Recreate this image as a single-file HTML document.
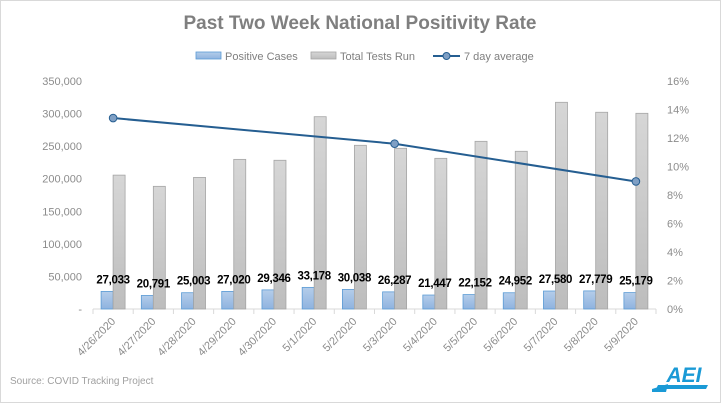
<!DOCTYPE html>
<html><head><meta charset="utf-8"><style>
body{margin:0;background:#fff;}
svg{display:block;font-family:"Liberation Sans",sans-serif;}
</style></head><body>
<svg id="chart" width="721" height="403" viewBox="0 0 721 403">
<defs>
<linearGradient id="gBlue" x1="0" y1="0" x2="0" y2="1"><stop offset="0" stop-color="#b4cdea"/><stop offset="1" stop-color="#8fb3df"/></linearGradient>
<linearGradient id="gGray" x1="0" y1="0" x2="0" y2="1"><stop offset="0" stop-color="#d6d6d6"/><stop offset="1" stop-color="#bdbdbd"/></linearGradient>
</defs>
<rect x="0.5" y="0.5" width="720" height="402" fill="#fff" stroke="#d9d9d9"/>
<text x="360" y="29" text-anchor="middle" font-size="19" font-weight="bold" fill="#7f7f7f">Past Two Week National  Positivity  Rate</text>
<g>
<g><rect x="196" y="52" width="25" height="7" fill="url(#gBlue)" stroke="#5b9bd5" stroke-width="0.8"/><text x="225" y="60" font-size="11" fill="#7f7f7f">Positive Cases</text></g>
<g><rect x="311" y="52" width="25" height="7" fill="url(#gGray)" stroke="#a5a5a5" stroke-width="0.8"/><text x="340" y="60" font-size="11" fill="#7f7f7f">Total Tests Run</text></g>
<g><line x1="433" y1="56" x2="460" y2="56" stroke="#255e91" stroke-width="2"/><circle cx="446.5" cy="56" r="3.5" fill="#7f9fc4" stroke="#255e91"/><text x="464" y="60" font-size="11" fill="#7f7f7f">7 day average</text></g>
</g>
<g id="plot"></g>
<text x="10" y="384" font-size="10" fill="#a0a0a0">Source: COVID Tracking Project</text>
<g fill="#1a9ad6">
<text x="684" y="382" text-anchor="middle" font-size="21" font-weight="bold" font-style="italic" fill="#1a9ad6">AEI</text>
<polygon points="658,385 708,385 706,389 656,389"/>
<polygon points="652,389 668,384 666,392 652,392"/>
</g>
</svg>
<script>
const categories=["4/26/2020","4/27/2020","4/28/2020","4/29/2020","4/30/2020","5/1/2020","5/2/2020","5/3/2020","5/4/2020","5/5/2020","5/6/2020","5/7/2020","5/8/2020","5/9/2020"];
const positiveCases=[27033,20791,25003,27020,29346,33178,30038,26287,21447,22152,24952,27580,27779,25179];
const totalTests=[205500,188300,202000,229700,228300,295200,251300,246700,231300,257400,242100,317300,302000,300400];
const avgValues=[13.4,null,null,null,null,null,null,11.6,null,null,null,null,null,8.95];
const leftTicks=[0,50000,100000,150000,200000,250000,300000,350000];
const leftTickLabels=["-","50,000","100,000","150,000","200,000","250,000","300,000","350,000"];
const rightTicks=[0,2,4,6,8,10,12,14,16];
const rightTickLabels=["0%","2%","4%","6%","8%","10%","12%","14%","16%"];

const NS="http://www.w3.org/2000/svg";
const plot=document.getElementById('plot');
const X0=93,X1=656,Y0=309,Y1=81;
const band=(X1-X0)/categories.length;
const xc=i=>X0+band*(i+0.5);
const yL=v=>Y0-(v/350000)*(Y0-Y1);
const yR=v=>Y0-(v/16)*(Y0-Y1);
function mk(tag,attrs,parent){const e=document.createElementNS(NS,tag);for(const k in attrs)e.setAttribute(k,attrs[k]);(parent||plot).appendChild(e);return e;}

leftTicks.forEach((t,i)=>{
 const e=mk('text',{x:82,y:yL(t)+4,'text-anchor':'end','font-size':11,fill:'#8c8c8c'});
 e.textContent=leftTickLabels[i];
 
 
});
rightTicks.forEach((t,i)=>{
 const e=mk('text',{x:667,y:yR(t)+4,'font-size':11,fill:'#8c8c8c'});
 e.textContent=rightTickLabels[i];
 
 
});
const ax=mk('line',{x1:X0,y1:Y0,x2:X1,y2:Y0,stroke:'#d9d9d9','stroke-width':1});


for(let i=0;i<=categories.length;i++){
 const tk=mk('line',{x1:X0+band*i,y1:Y0,x2:X0+band*i,y2:Y0+5,stroke:'#d9d9d9'});
 
 
}
const bw=12;
categories.forEach((c,i)=>{
 const cx=xc(i);
 const b=mk('rect',{x:cx-bw,y:yL(positiveCases[i]),width:bw,height:Y0-yL(positiveCases[i]),fill:'url(#gBlue)',stroke:'#5b9bd5','stroke-width':0.8});
 
 
 const g=mk('rect',{x:cx,y:yL(totalTests[i]),width:bw,height:Y0-yL(totalTests[i]),fill:'url(#gGray)',stroke:'#a5a5a5','stroke-width':0.8});
 
 
 const lb=mk('text',{x:cx,y:yL(positiveCases[i])-8,'text-anchor':'middle','font-size':11.5,'font-weight':'bold','letter-spacing':'-0.3',fill:'#000'});
 lb.textContent=positiveCases[i].toLocaleString('en-US');
 
 
 const tl=mk('text',{x:0,y:0,'text-anchor':'end','font-size':11,fill:'#8c8c8c',transform:`translate(${cx+3},${Y0+13}) rotate(-45)`});
 tl.textContent=c;
 
 
});
const pts=[];avgValues.forEach((v,i)=>{if(v!==null)pts.push([xc(i),yR(v)]);});
const ln=mk('polyline',{points:pts.map(p=>p.join(',')).join(' '),fill:'none',stroke:'#255e91','stroke-width':2});


pts.forEach(p=>{
 const m=mk('circle',{cx:p[0],cy:p[1],r:3.8,fill:'#7f9fc4',stroke:'#255e91','stroke-width':1});
 
 
});
</script>
</body></html>
